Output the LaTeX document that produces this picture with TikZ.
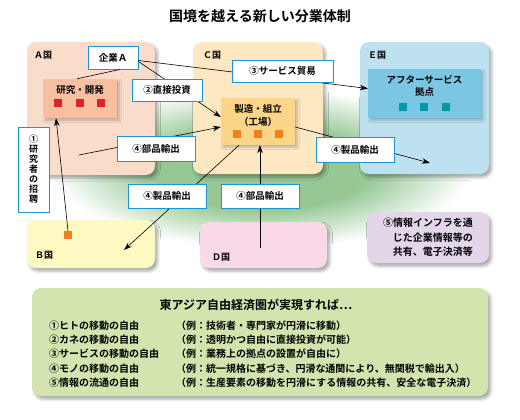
\documentclass[tikz,border=0pt]{standalone}
\usepackage{fontspec}
\setmainfont{Noto Sans CJK JP}[BoldFont={Noto Sans CJK JP Bold}]
\usetikzlibrary{arrows.meta,shadows.blur}

\definecolor{landA}{HTML}{F9DCCA}
\definecolor{landB}{HTML}{FDF9C2}
\definecolor{landC}{HTML}{FDE8C2}
\definecolor{landD}{HTML}{F9D9E7}
\definecolor{landE}{HTML}{BEE1F0}
\definecolor{infobg}{HTML}{E3D6EA}
\definecolor{summarybg}{HTML}{D2E5AE}
\definecolor{labbg}{HTML}{F5BFA0}
\definecolor{factorybg}{HTML}{FDD588}
\definecolor{servicebg}{HTML}{7BC7E3}
\definecolor{sqred}{HTML}{E02030}
\definecolor{sqorange}{HTML}{F07F1E}
\definecolor{sqteal}{HTML}{0098A8}
\definecolor{lblue}{HTML}{1A96D4}
\definecolor{glow}{HTML}{96C896}

\pgfdeclareradialshading{greenglow}{\pgfpoint{0bp}{0bp}}{color(0bp)=(glow); color(13bp)=(glow); color(25bp)=(white); color(50bp)=(white)}

\newcommand{\boxtext}{\fontsize{9.5}{11}\selectfont\bfseries}
\newcommand{\landtext}{\fontsize{9}{11}\selectfont\bfseries}
\newcommand{\listtext}{\fontsize{10}{14.4}\selectfont\bfseries}

\tikzset{
  land/.style={rounded corners=9pt, inner sep=0pt,
    blur shadow={shadow xshift=2.5pt, shadow yshift=-3pt, shadow blur radius=3pt, shadow opacity=35}},
  hub/.style={inner sep=0pt,
    blur shadow={shadow xshift=2pt, shadow yshift=-2pt, shadow blur radius=2pt, shadow opacity=25}},
  flowlabel/.style={draw=lblue, line width=0.9pt, fill=white, inner sep=0pt, minimum height=23pt, font=\boxtext},
  sq/.style={minimum size=8pt, inner sep=0pt},
  landname/.style={anchor=west, inner sep=0pt, font=\landtext},
  flow/.style={line width=0.6pt, -{Stealth[length=8pt,width=5.5pt]}},
  link/.style={line width=0.6pt},
}

\begin{document}
\begin{tikzpicture}[x=1pt,y=-1pt]
  \useasboundingbox (0,0) rectangle (520,420);

  % green background glow
  \shade[shading=greenglow] (262,168) ellipse [x radius=210, y radius=80];

  % countries
  \node[land, fill=landA, minimum width=128pt, minimum height=133pt] (landA) at (91,108.5) {};
  \node[land, fill=landC, minimum width=130pt, minimum height=132pt] (landC) at (258,108) {};
  \node[land, fill=landE, minimum width=129pt, minimum height=132pt] (landE) at (424.5,108) {};
  \node[land, fill=landB, minimum width=128pt, minimum height=48pt] (landB) at (91,244) {};
  \node[land, fill=landD, minimum width=127pt, minimum height=46pt] (landD) at (263.5,245) {};
  \node[landname] (nameA) at (34,55) {Ａ国};
  \node[landname] (nameC) at (203,55) {Ｃ国};
  \node[landname] (nameE) at (368,55) {Ｅ国};
  \node[landname] (nameB) at (35,255) {Ｂ国};
  \node[landname] (nameD) at (212,257) {Ｄ国};

  % bases inside the countries
  \node[hub, fill=labbg, minimum width=74pt, minimum height=39pt] (lab) at (80,98.5) {};
  \node[font=\boxtext, inner sep=0pt] (labtxt) at (80,90) {研究・開発};
  \node[sq, fill=sqred] (r1) at (58,103) {};
  \node[sq, fill=sqred] (r2) at (80,103) {};
  \node[sq, fill=sqred] (r3) at (101,103) {};

  \node[hub, fill=factorybg, minimum width=74pt, minimum height=47pt] (factory) at (258,121.5) {};
  \node[font=\boxtext, align=center, inner sep=0pt] (factorytxt) at (258,115) {製造・組立\\[2pt]（工場）};
  \node[sq, fill=sqorange] (o1) at (237,134) {};
  \node[sq, fill=sqorange] (o2) at (258,134) {};
  \node[sq, fill=sqorange] (o3) at (279,134) {};

  \node[hub, fill=servicebg, minimum width=113pt, minimum height=49pt] (service) at (424.5,93.5) {};
  \node[font=\boxtext, align=center, inner sep=0pt] (servicetxt) at (424.5,85.5) {アフターサービス\\[1pt]拠点};
  \node[sq, fill=sqteal] (t1) at (403,107) {};
  \node[sq, fill=sqteal] (t2) at (424,107) {};
  \node[sq, fill=sqteal] (t3) at (446,107) {};

  \node[sq, fill=sqorange] (researcher) at (68,235) {};

  \node[flowlabel, minimum width=50pt] (firm) at (113,57.5) {企業Ａ};

  % free ends
  \coordinate (inA) at (79,155);
  \coordinate (inB) at (124,250);
  \coordinate (inD) at (260,248);
  \coordinate (inE) at (430,163);

  % flows
  \draw[link] ([xshift=7pt]firm.south) -- ([xshift=-3pt]lab.north);
  \draw[flow] ([yshift=-3pt]firm.east) -- ([yshift=5pt]service.west);
  \draw[flow] ([yshift=-4pt]firm.east) -- ([yshift=4.5pt]factory.west);
  \draw[flow] (inA) -- ([yshift=-5.5pt]factory.west);
  \draw[flow] ([xshift=-19pt]factory.south) -- (inB);
  \draw[flow] (inD) -- (inD |- factory.south);
  \draw[flow] ([yshift=-5.5pt]factory.east) -- (inE);
  \draw[flow] (researcher.north) -- ([xshift=-24pt]lab.south);

  % flow labels
  \node[flowlabel, minimum width=70pt, minimum height=22pt] (invest) at (167,90) {②直接投資};
  \node[flowlabel, minimum width=101pt, minimum height=22pt] (trade) at (282.5,71) {③サービス貿易};
  \node[flowlabel, minimum width=78pt, minimum height=25pt] (partsA) at (156,148.5) {④部品輸出};
  \node[flowlabel, minimum width=78pt, minimum height=24pt] (goodsB) at (167,196) {④製品輸出};
  \node[flowlabel, minimum width=78pt, minimum height=24pt] (partsD) at (260,196) {④部品輸出};
  \node[flowlabel, minimum width=78pt, minimum height=25pt] (goodsE) at (355,149.5) {④製品輸出};
  \node[flowlabel, minimum width=31pt, minimum height=85pt, align=center,
        font=\fontsize{9}{10}\selectfont\bfseries] (invite) at (33.5,169.5)
        {①\\研\\究\\者\\の\\招\\聘};

  % information infrastructure
  \node[land, fill=infobg, minimum width=122pt, minimum height=51pt] (info) at (428,237.5) {};
  \node[anchor=east, align=right, inner sep=0pt, font=\fontsize{10}{14.5}\selectfont\bfseries] (infotxt) at (473,237.5)
        {⑤情報インフラを通\\じた企業情報等の\\共有、電子決済等};

  % summary
  \node[land, fill=summarybg, minimum width=456pt, minimum height=108pt] (summary) at (260,342) {};
  \node[font=\fontsize{12}{14}\selectfont\bfseries, inner sep=0pt] (summarytitle) at (256,305) {東アジア自由経済圏が実現すれば…};
  \node[anchor=west, align=left, inner sep=0pt, font=\listtext] (freedoms) at (49,354)
        {①ヒトの移動の自由\\②カネの移動の自由\\③サービスの移動の自由\\④モノの移動の自由\\⑤情報の流通の自由};
  \node[anchor=west, align=left, inner sep=0pt, font=\listtext] (examples) at (176,354)
        {（例：技術者・専門家が円滑に移動）\\（例：透明かつ自由に直接投資が可能）\\（例：業務上の拠点の設置が自由に）\\（例：統一規格に基づき、円滑な通関により、無関税で輸出入）\\（例：生産要素の移動を円滑にする情報の共有、安全な電子決済）};

  % title
  \node[font=\fontsize{14}{16}\selectfont\bfseries, inner sep=0pt] (title) at (260,16.5) {国境を越える新しい分業体制};
\end{tikzpicture}
\end{document}
